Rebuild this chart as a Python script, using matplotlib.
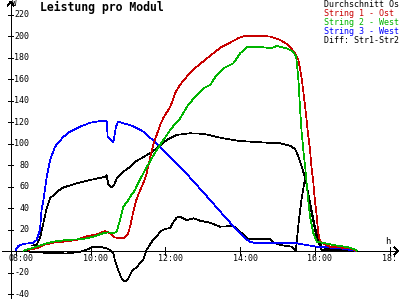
import matplotlib
matplotlib.use("Agg")
import matplotlib.pyplot as plt
from matplotlib.transforms import offset_copy

# ---------------- data (hours, W) ----------------
t_avg = [8.43, 8.56, 8.65, 8.74, 8.83, 8.92, 9.1, 9.27, 9.63, 9.99, 10.39, 10.43, 10.48, 10.57,
         10.63, 10.70, 10.88, 11.01, 11.19, 11.32, 11.59, 11.77, 12.04, 12.3, 12.66, 13.02, 13.55,
         14.0, 14.75, 15.07, 15.33, 15.47, 15.56, 15.65, 15.74, 15.82, 15.91, 16.0, 16.09, 16.18,
         16.4, 17.12]
v_avg = [5, 5.6, 12, 26, 40, 49, 55, 59, 63, 66, 69, 70.7, 61.4, 59.3,
         61.4, 67.6, 73.8, 77, 83, 85.5, 91, 95.5, 103.3, 108, 109.5, 109, 104.8,
         102.3, 100.7, 100.2, 98, 95, 88, 78, 68, 54, 38, 23, 11, 4,
         1.5, 0]

t_s1 = [8.34, 8.56, 8.74, 9.0, 9.27, 9.63, 9.85, 10.17, 10.39, 10.52, 10.65, 10.79, 10.92, 11.01,
        11.08, 11.14, 11.22, 11.32, 11.41, 11.5, 11.59, 11.68, 11.77, 11.86, 11.95, 12.04, 12.13,
        12.21, 12.26, 12.39, 12.61, 12.84, 13.06, 13.28, 13.51, 13.73, 13.95, 14.13, 14.62, 14.8,
        15.07, 15.29, 15.47, 15.56, 15.65, 15.74, 15.82, 15.87, 15.91, 15.96, 16.0, 16.05, 16.09,
        16.14, 16.4, 16.94, 17.12]
v_s1 = [1, 2.5, 5.6, 7.7, 8.7, 10.2, 13.3, 15.5, 18.6, 16.5, 12.7, 11.8, 12.4, 16.5,
        26, 36, 47, 56, 63, 72, 86, 99, 108, 117, 124, 129, 134,
        141, 146.7, 154.4, 163.7, 171.4, 177.7, 183.9, 190, 193.8, 197.9, 200.3, 200.3, 199.4,
        196.3, 191.6, 183.9, 177.7, 160, 134, 108, 94, 78, 63, 47, 32, 16.5,
        8.7, 4, 2.5, 0]

t_s2 = [8.2, 8.56, 8.83, 9.0, 9.36, 9.81, 10.07, 10.34, 10.48, 10.61, 10.70, 10.79, 10.88, 11.01,
        11.06, 11.19, 11.27, 11.5, 11.77, 11.95, 12.13, 12.21, 12.39, 12.61, 12.84, 13.02, 13.2,
        13.37, 13.55, 13.82, 14.0, 14.18, 14.62, 14.84, 14.98, 15.24, 15.42, 15.5, 15.56, 15.6,
        15.64, 15.69, 15.74, 15.78, 15.82, 15.87, 15.96, 16.05, 16.5, 16.9, 17.1, 17.12]
v_s2 = [0.3, 4, 7.2, 8.7, 10.2, 11.2, 13.3, 16.5, 17.4, 16.5, 18, 28.8, 41.2, 47.4,
        50.5, 56.7, 63, 78, 94, 103.3, 112.6, 116, 123, 135.8, 145.1, 151.3, 154.4,
        163.7, 170, 174.6, 183.9, 189.5, 189.5, 188.6, 190.7, 188.6, 185.4, 180.7, 159, 134.2,
        112.6, 94, 78.4, 63, 47.4, 32, 16.5, 8.7, 5.5, 3.5, 1, 0]

t_s3 = [8.0, 8.07, 8.2, 8.47, 8.56, 8.65, 8.69, 8.74, 8.83, 8.92, 9.05, 9.27, 9.45, 9.72, 9.99,
        10.30, 10.43, 10.46, 10.52, 10.61, 10.68, 10.74, 10.88, 11.06, 11.32, 11.41, 11.77, 12.13,
        12.48, 12.84, 13.2, 13.55, 13.91, 14.13, 14.26, 14.4, 15.51, 16.05, 16.67, 17.12]
v_s3 = [1, 4.6, 6.5, 7.7, 10.2, 19.5, 38, 47, 69, 84.7, 97, 106, 111, 115.6, 119.3,
        121.2, 121, 106, 104, 101, 115.6, 120.3, 118.8, 117.2, 113, 111, 100, 87.7,
        75.3, 61.4, 47.4, 33.5, 19.5, 11.8, 8.7, 7.5, 7.2, 4, 2.5, 0]

t_diff = [8.25, 8.47, 9.36, 9.72, 9.9, 9.99, 10.07, 10.25, 10.43, 10.52, 10.61, 10.65, 10.74, 10.83,
          10.92, 11.01, 11.1, 11.24, 11.41, 11.5, 11.64, 11.77, 11.86, 11.95, 12.13, 12.22, 12.30,
          12.39, 12.57, 12.75, 12.93, 13.2, 13.46, 13.82, 14.0, 14.22, 14.8, 14.89, 15.07, 15.38,
          15.49, 15.56, 15.65, 15.74, 15.82, 15.91, 16.0, 16.09, 16.18, 17.12]
v_diff = [0, -1.2, -2.3, -0.8, 1.4, 2.5, 4, 4, 2.5, 1, -2, -8.4, -17.7, -25.4,
          -28.5, -25.4, -19.3, -14.6, -8.4, 1, 8.7, 13.3, 18, 20, 21.5, 27, 31,
          32, 28.8, 30.4, 28.2, 26.3, 22.6, 23.3, 18, 10.9, 10.9, 7.7, 5.6, 4,
          0, 25, 50, 68, 54, 36, 20, 8, 1, -0.5]

x_ticks = [8, 10, 12, 14, 16, 18]
x_tick_labels = ["08:00", "10:00", "12:00", "14:00", "16:00", "18:"]
y_ticks = [-40, -20, 20, 40, 60, 80, 100, 120, 140, 160, 180, 200, 220]

legend_labels = ["Durchschnitt Os", "String 1 - Ost", "String 2 - West",
                 "String 3 - West", "Diff: Str1-Str2"]

# ---------------- style ----------------
RED = "#c80000"
GREEN = "#00b400"
BLUE = "#0000ff"
BLACK = "#000000"
MONO = "DejaVu Sans Mono"

fig = plt.figure(figsize=(4, 3), dpi=100)
ax = fig.add_axes([0, 0, 1, 1])
ax.set_xlim(7.5802, 18.2754)
ax.set_ylim(-45.58, 233.49)
ax.axis("off")

LW = 0.5
AA = dict(antialiased=False, solid_capstyle="butt", solid_joinstyle="miter")
# axes
x0_axis = 7.866
ax.plot([7.63, 18.22], [0, 0], color=BLACK, lw=LW, **AA)
ax.plot([x0_axis, x0_axis], [-43.7, 232.0], color=BLACK, lw=LW, **AA)
# arrow heads
ax.plot([18.12, 18.22, 18.12], [3.7, 0, -3.7], color=BLACK, lw=LW, **AA)
ax.plot([x0_axis - 0.09, x0_axis, x0_axis + 0.09], [228.0, 232.0, 228.0], color=BLACK, lw=LW, **AA)

# ticks
for yt in y_ticks:
    ax.plot([x0_axis - 0.075, x0_axis + 0.075], [yt, yt], color=BLACK, lw=LW, **AA)
for xt in x_ticks:
    ax.plot([xt, xt], [-3.7, 3.3], color=BLACK, lw=LW, **AA)

# tick labels
for yt in y_ticks:
    ax.text(x0_axis + 18.8 / 37.4, yt, str(yt), transform=ax.transData, ha="right", va="center",
            fontsize=6, family=MONO, color=BLACK)
xtrans = offset_copy(ax.transData, fig=fig, x=-7.5, y=-7.5, units="dots")
for xt, lab in zip(x_ticks, x_tick_labels):
    ax.text(xt, 0, lab, transform=xtrans, ha="left", va="center", fontsize=6, family=MONO,
            color=BLACK)

# unit labels
fig.text(12.5 / 400, 1 - 4 / 300, "W", ha="left", va="center", fontsize=5.5, family=MONO)
fig.text(385 / 400, 1 - 242 / 300, "h", ha="left", va="center", fontsize=6.5, family=MONO)

# title
fig.text(40 / 400, 1 - 7 / 300, "Leistung pro Modul", ha="left", va="center", fontsize=8.3,
         family=MONO, fontweight="bold")

# data lines
ax.plot(t_diff, v_diff, color=BLACK, lw=LW, **AA)
ax.plot(t_avg, v_avg, color=BLACK, lw=LW, **AA)
ax.plot(t_s3, v_s3, color=BLUE, lw=LW, **AA)
ax.plot(t_s1, v_s1, color=RED, lw=LW, **AA)
ax.plot(t_s2, v_s2, color=GREEN, lw=LW, **AA)

# legend text
leg_colors = [BLACK, RED, GREEN, BLUE, BLACK]
for i, (lab, col) in enumerate(zip(legend_labels, leg_colors)):
    fig.text(324 / 400, 1 - (4.5 + 9 * i) / 300, lab, ha="left", va="center", fontsize=6,
             family=MONO, color=col)

fig.savefig("out.png", dpi=100)
